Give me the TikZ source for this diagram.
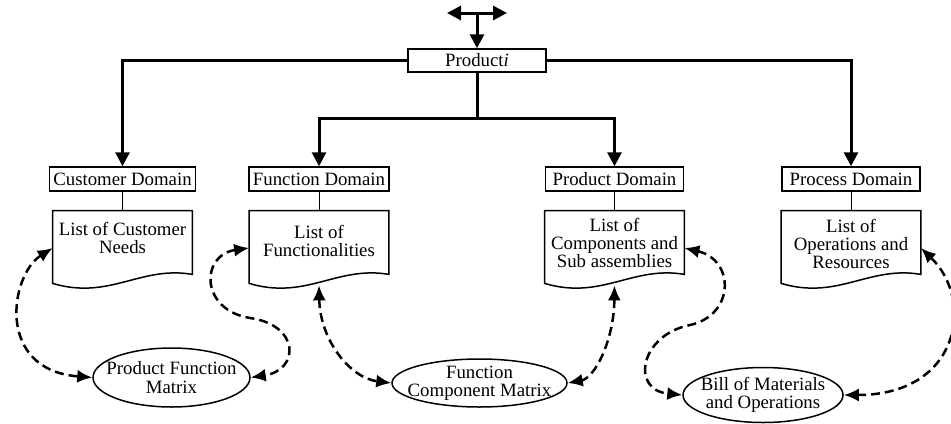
\documentclass[tikz,border=0pt]{standalone}
\usepackage{fontspec}
\setmainfont{Liberation Serif}
\usetikzlibrary{arrows.meta, positioning, calc, shapes.geometric}

\tikzset{
  domainbox/.style={draw, line width=0.75pt, minimum width=69pt, minimum height=12pt, inner xsep=2pt, inner ysep=0pt},
  docframe/.style={minimum width=69.5pt, minimum height=37pt, inner sep=0pt},
  doctext/.style={align=center, inner sep=0pt},
  matrixnode/.style={ellipse, draw, line width=0.75pt, inner sep=0pt},
  bus/.style={line width=1.5pt, -{Triangle[length=7pt,width=7pt]}},
  link/.style={line width=0.5pt},
  assoc/.style={line width=1.25pt, dash pattern=on 4.5pt off 2.5pt, {Latex[length=7.5pt,width=6.5pt]}-{Latex[length=7.5pt,width=6.5pt]}}
}

\begin{document}
\begin{tikzpicture}[x=0.5pt, y=-0.5pt, font=\fontsize{9.4}{9.2}\selectfont]
  \useasboundingbox (0,0) rectangle (951,423);

  % Product i and the arrows on top
  \node[domainbox, minimum height=11.5pt] (product) at (477,60.5) {Product\textit{i}};
  \coordinate (topc) at (477,13);
  \coordinate (topl) at (447,13);
  \coordinate (topr) at (507,13);
  \draw[bus] (topc) -- (product.north);
  \draw[bus, {Triangle[length=7pt,width=7pt]}-{Triangle[length=7pt,width=7pt]}] (topl) -- (topr);

  % domains
  \node[domainbox] (custdom) at (122.5,179) {Customer Domain};
  \node[domainbox] (funcdom) at (319,179) {Function Domain};
  \node[domainbox] (proddom) at (614.5,179) {Product Domain};
  \node[domainbox] (procdom) at (851,179) {Process Domain};

  % buses
  \draw[bus] (product.west) -| (custdom.north);
  \draw[bus] (product.east) -| (procdom.north);
  \coordinate (split) at (477,118);
  \draw[bus, -] (product.south) -- (split);
  \draw[bus] (split) -| (funcdom.north);
  \draw[bus] (split) -| (proddom.north);

  % documents
  \node[docframe] (custdoc) at (122.5,248) {};
  \node[docframe] (funcdoc) at (319,248) {};
  \node[docframe] (proddoc) at (614.5,248) {};
  \node[docframe] (procdoc) at (851,248) {};
  \foreach \d in {custdoc,funcdoc,proddoc,procdoc}
    \draw[line width=0.75pt] (\d.north west) -- (\d.north east) -- ($(\d.south east)+(0,-11)$)
      .. controls +(-52,-9) and +(57,17) .. ($(\d.south west)+(0,-2)$) -- cycle;

  \node[doctext] (custtxt) at (122.5,238) {List of Customer\\Needs};
  \node[doctext] (functxt) at (319,241) {List of\\Functionalities};
  \node[doctext] (prodtxt) at (614.5,243) {List of\\Components and\\Sub assemblies};
  \node[doctext] (proctxt) at (851,244) {List of\\Operations and\\Resources};

  \draw[link] (custdom) -- (custdoc);
  \draw[link] (funcdom) -- (funcdoc);
  \draw[link] (proddom) -- (proddoc);
  \draw[link] (procdom) -- (procdoc);

  % matrices
  \node[matrixnode, minimum width=78.5pt, minimum height=29.5pt] (pfm) at (171.5,377.5) {};
  \node[doctext] (pfmtxt) at (pfm) {Product Function\\Matrix};
  \node[matrixnode, minimum width=87.5pt, minimum height=24pt] (fcm) at (479.5,383) {};
  \node[doctext] (fcmtxt) at (fcm) {Function\\Component Matrix};
  \node[matrixnode, minimum width=80pt, minimum height=27.5pt] (bom) at (763,395) {};
  \node[doctext] (bomtxt) at (bom) {Bill of Materials\\and Operations};

  % dashed relations
  \draw[assoc] (custdoc.west) .. controls (10,275) and (-5,370) .. (pfm.west);
  \draw[assoc] (funcdoc.west) .. controls (200,255) and (200,310) .. (250,318)
    .. controls (300,325) and (300,370) .. (pfm.east);
  \draw[assoc] (funcdoc.south) .. controls (320,340) and (350,378) .. (fcm.west);
  \draw[assoc] (proddoc.south) .. controls (614,340) and (595,378) .. (fcm.east);
  \draw[assoc] (proddoc.east) .. controls (735,260) and (735,315) .. (690,325)
    .. controls (640,335) and (630,390) .. (bom.west);
  \draw[assoc] (procdoc.east) .. controls (975,300) and (960,395) .. (bom.east);
\end{tikzpicture}
\end{document}
